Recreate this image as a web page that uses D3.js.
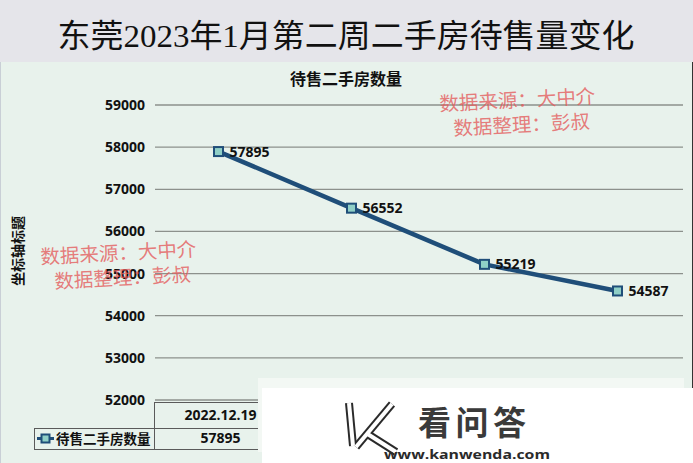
<!DOCTYPE html>
<html>
<head>
<meta charset="utf-8">
<script src="https://cdn.jsdelivr.net/npm/d3@7"></script>
<style>
  body { margin: 0; background: #fff; }
  svg { display: block; }
</style>
</head>
<body>
<div id="chart"></div>
<script>
// Data
const categories = ["2022.12.19", "2022.12.26", "2023.01.02", "2023.01.09"];
const values = [57895, 56552, 55219, 54587];
const yTicks = [52000, 53000, 54000, 55000, 56000, 57000, 58000, 59000];
const seriesName = "待售二手房数量";
const pageTitle = "东莞2023年1月第二周二手房待售量变化";
const chartTitle = "待售二手房数量";
const axisTitle = "坐标轴标题";
const watermarkLines = ["数据来源：大中介", "数据整理：彭叔"];

const W = 693, H = 463;
const numFont = "'Open Sans', 'Noto Sans CJK SC', sans-serif";
const cjkFont = "'Noto Sans CJK SC', sans-serif";
const lineColor = "#1f4e79";

const svg = d3.select("#chart")
  .append("svg")
  .attr("width", W)
  .attr("height", H);

// backgrounds
svg.append("rect").attr("x", 0).attr("y", 0).attr("width", W).attr("height", 62).attr("fill", "#e5e5ea");
svg.append("rect").attr("x", 0).attr("y", 62).attr("width", W).attr("height", H - 62).attr("fill", "#e8f2ec");
svg.append("line").attr("x1", 0.5).attr("x2", 0.5).attr("y1", 62).attr("y2", H).attr("stroke", "#c9cfd6");
svg.append("line").attr("x1", 692.5).attr("x2", 692.5).attr("y1", 62).attr("y2", H).attr("stroke", "#333");

// big title
svg.append("text")
  .attr("x", 346).attr("y", 47)
  .attr("text-anchor", "middle")
  .attr("font-family", "'Liberation Serif', 'Noto Sans CJK SC', serif")
  .attr("font-size", 32)
  .attr("fill", "#111")
  .attr("textLength", 577)
  .attr("lengthAdjust", "spacingAndGlyphs")
  .text(pageTitle);

// scales
const x = d3.scaleBand().domain(categories).range([152, 684]);
const y = d3.scaleLinear().domain([52000, 59000]).range([400, 105]);

// gridlines
svg.append("g")
  .selectAll("line")
  .data(yTicks)
  .enter()
  .append("line")
    .attr("x1", 155).attr("x2", 683)
    .attr("y1", d => y(d)).attr("y2", d => y(d))
    .attr("stroke", "#8c918c")
    .attr("stroke-width", 1.3);

// y tick labels
svg.append("g")
  .selectAll("text")
  .data(yTicks)
  .enter()
  .append("text")
    .attr("x", 145)
    .attr("y", d => y(d))
    .attr("dy", "0.36em")
    .attr("text-anchor", "end")
    .attr("font-family", numFont)
    .attr("font-weight", "bold")
    .attr("font-size", 14)
    .attr("fill", "#111")
    .text(d => d);

// chart title
svg.append("text")
  .attr("x", 346).attr("y", 85)
  .attr("text-anchor", "middle")
  .attr("font-family", cjkFont)
  .attr("font-weight", "bold")
  .attr("font-size", 16)
  .attr("fill", "#111")
  .text(chartTitle);

// axis title
svg.append("text")
  .attr("transform", "translate(23,251) rotate(-90)")
  .attr("text-anchor", "middle")
  .attr("font-family", cjkFont)
  .attr("font-weight", "bold")
  .attr("font-size", 14)
  .attr("fill", "#111")
  .text(axisTitle);

// line
const cx = d => x(d) + x.bandwidth() / 2;
const points = categories.map((c, i) => [cx(c), y(values[i])]);

svg.append("path")
  .datum(points)
  .attr("d", d3.line())
  .attr("fill", "none")
  .attr("stroke", lineColor)
  .attr("stroke-width", 4.5)
  .attr("stroke-linejoin", "round");

// markers
svg.append("g")
  .selectAll("rect")
  .data(points)
  .enter()
  .append("rect")
    .attr("x", d => d[0] - 4.5)
    .attr("y", d => d[1] - 4.5)
    .attr("width", 9).attr("height", 9)
    .attr("fill", "#8fcfc6")
    .attr("stroke", lineColor)
    .attr("stroke-width", 2);

// data labels
svg.append("g")
  .selectAll("text")
  .data(values)
  .enter()
  .append("text")
    .attr("x", (d, i) => cx(categories[i]) + 11)
    .attr("y", d => y(d))
    .attr("dy", "0.36em")
    .attr("font-family", numFont)
    .attr("font-weight", "bold")
    .attr("font-size", 14)
    .attr("fill", "#111")
    .text(d => d);

// data table
const table = svg.append("g").attr("stroke", "#5a5a5a").attr("stroke-width", 1);
table.append("line").attr("x1", 154).attr("x2", 684).attr("y1", 402.5).attr("y2", 402.5);
table.append("line").attr("x1", 34).attr("x2", 684).attr("y1", 428.5).attr("y2", 428.5);
table.append("line").attr("x1", 34).attr("x2", 684).attr("y1", 449.5).attr("y2", 449.5);
table.append("line").attr("x1", 34.5).attr("x2", 34.5).attr("y1", 428).attr("y2", 450);
table.selectAll("line.col")
  .data(categories)
  .enter()
  .append("line")
    .attr("class", "col")
    .attr("x1", d => Math.round(x(d)) + 2.5).attr("x2", d => Math.round(x(d)) + 2.5)
    .attr("y1", 402).attr("y2", 450);

// only the first column is left uncovered by the logo overlay
const visibleCols = categories.filter(d => x(d) + x.bandwidth() < 300);

svg.append("g")
  .selectAll("text")
  .data(visibleCols)
  .enter()
  .append("text")
    .attr("x", d => cx(d) + 2)
    .attr("y", 420)
    .attr("text-anchor", "middle")
    .attr("font-family", numFont)
    .attr("font-weight", "bold")
    .attr("font-size", 14)
    .attr("fill", "#111")
    .text(d => d);

svg.append("g")
  .selectAll("text")
  .data(visibleCols)
  .enter()
  .append("text")
    .attr("x", d => cx(d) + 2)
    .attr("y", 443)
    .attr("text-anchor", "middle")
    .attr("font-family", numFont)
    .attr("font-weight", "bold")
    .attr("font-size", 14)
    .attr("fill", "#111")
    .text(d => values[categories.indexOf(d)]);

// legend key in table
svg.append("line").attr("x1", 37).attr("x2", 54).attr("y1", 438.5).attr("y2", 438.5)
  .attr("stroke", lineColor).attr("stroke-width", 3);
svg.append("rect").attr("x", 41.5).attr("y", 434.5).attr("width", 8).attr("height", 8)
  .attr("fill", "#8fcfc6").attr("stroke", lineColor).attr("stroke-width", 2);
svg.append("text")
  .attr("x", 56).attr("y", 444)
  .attr("font-family", cjkFont)
  .attr("font-weight", "bold")
  .attr("font-size", 13.5)
  .attr("fill", "#111")
  .text(seriesName);

// red watermark text
const marks = [
  { x: 518, y: 113 },
  { x: 119, y: 266 }
];
marks.forEach(m => {
  const g = svg.append("g").attr("transform", `translate(${m.x},${m.y}) rotate(-3)`);
  g.selectAll("text")
    .data(watermarkLines)
    .enter()
    .append("text")
      .attr("x", (d, i) => i * 3)
      .attr("y", (d, i) => i === 0 ? -6 : 19)
      .attr("text-anchor", "middle")
      .attr("font-family", "'Liberation Serif', 'Noto Sans CJK SC', serif")
      .attr("font-size", 19.5)
      .attr("fill", "#e45c5c")
      .attr("fill-opacity", 0.8)
      .text(d => d);
});

// site logo overlay
svg.append("rect").attr("x", 258).attr("y", 378).attr("width", 426).attr("height", 74).attr("fill", "#f3f8f4");
svg.append("rect").attr("x", 262).attr("y", 388).attr("width", 431).attr("height", 75).attr("fill", "#fff");

const logo = svg.append("g").attr("fill", "none").attr("stroke-linecap", "butt");
const kPaths = [
  "M349,403 L353,446",
  "M392,404 L356,447",
  "M366,433 L396,452"
];
kPaths.forEach(p => {
  logo.append("path").attr("d", p).attr("stroke", "#2a2a2a").attr("stroke-width", 8);
});
kPaths.forEach(p => {
  logo.append("path").attr("d", p).attr("stroke", "#fff").attr("stroke-width", 4);
});

svg.append("text")
  .attr("x", 418).attr("y", 435)
  .attr("font-family", cjkFont)
  .attr("font-weight", "bold")
  .attr("font-size", 33)
  .attr("fill", "#3a3a3a")
  .attr("textLength", 108)
  .text("看问答");

svg.append("text")
  .attr("x", 384).attr("y", 459)
  .attr("font-family", numFont)
  .attr("font-weight", "bold")
  .attr("font-size", 13)
  .attr("fill", "#2a2a2a")
  .attr("textLength", 166)
  .attr("lengthAdjust", "spacingAndGlyphs")
  .text("www.kanwenda.com");
</script>
</body>
</html>
